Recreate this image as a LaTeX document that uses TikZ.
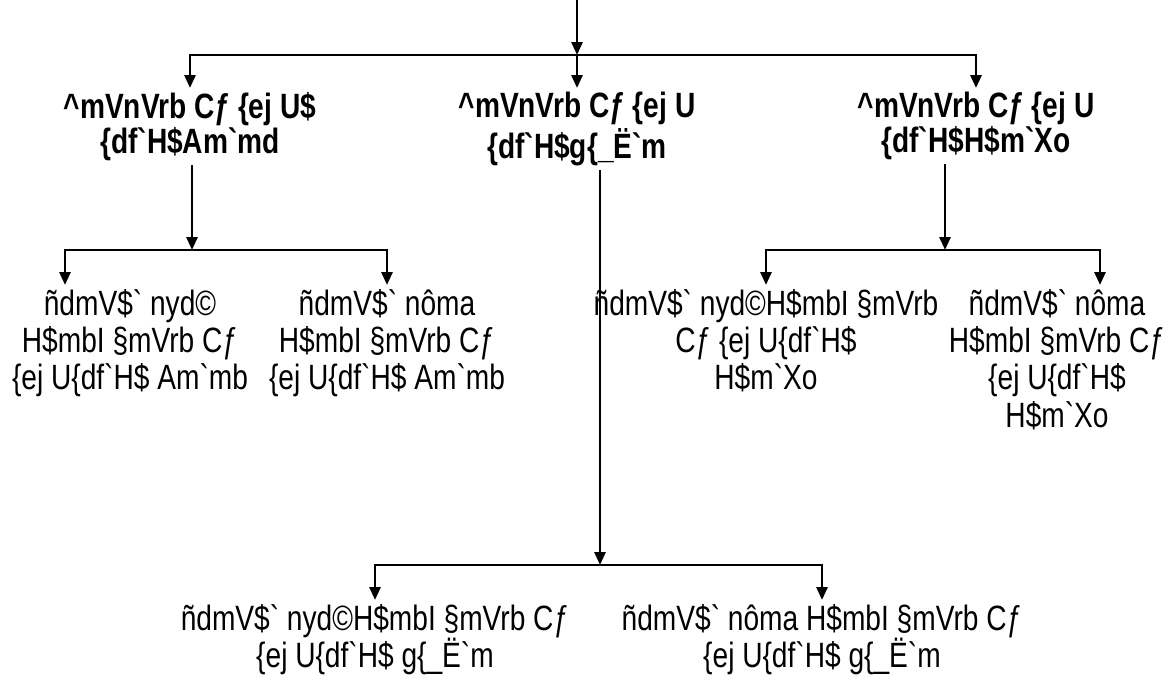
\documentclass[tikz,border=0pt]{standalone}
\usepackage{fontspec}
\setmainfont{Liberation Sans}[FakeStretch=0.8,Ligatures=TeXOff]
\usetikzlibrary{positioning,arrows.meta}
\tikzset{
  head/.style={align=center,anchor=north,inner sep=1pt,font=\bfseries\fontsize{10}{10}\selectfont},
  leaf/.style={align=center,anchor=north,inner sep=1pt,font=\fontsize{10}{10.6}\selectfont},
  link/.style={line width=0.8pt,-{Triangle[length=1.3mm,width=1.1mm]}}
}

\begin{document}
\begin{tikzpicture}[x=1cm,y=-1cm]
  \useasboundingbox (0,0) rectangle (11.72,6.80);
  % junctions
  \coordinate (src) at (5.77,0);
  \coordinate (j0) at (5.77,0.55);
  \coordinate (j1) at (1.92,2.50);
  \coordinate (j2) at (6.00,5.65);
  \coordinate (j3) at (9.45,2.50);
  \coordinate (tipa) at (0.65,2.85);
  \coordinate (tipd) at (11.00,2.85);
  % upper nodes
  \node[head] at(1.90,0.88)(left){\textasciicircum mVnVrb Cƒ \{ej U\$\\\{df`H\$Am`md};
  \node[head] at(5.77,0.88)(mid){\textasciicircum mVnVrb Cƒ \{ej U\\\{df`H\$g\{\_Ë`m};
  \node[head] at(9.76,0.88)(right){\textasciicircum mVnVrb Cƒ \{ej U\\\{df`H\$H\$m`Xo};
  % lower nodes
  \node[leaf] at(1.30,2.85)(ll){ñdmV\$` nyd©\\H\$mbI §mVrb Cƒ\\\{ej U\{df`H\$ Am`mb};
  \node[leaf] at(3.87,2.85)(lr){ñdmV\$` nôma\\H\$mbI §mVrb Cƒ\\\{ej U\{df`H\$ Am`mb};
  \node[leaf] at(7.66,2.85)(rl){ñdmV\$` nyd©H\$mbI §mVrb\\Cƒ \{ej U\{df`H\$\\H\$m`Xo};
  \node[leaf] at(10.57,2.85)(rr){ñdmV\$` nôma\\H\$mbI §mVrb Cƒ\\\{ej U\{df`H\$\\H\$m`Xo};
  \node[leaf] at(3.75,6.00)(bl){ñdmV\$` nyd©H\$mbI §mVrb Cƒ\\\{ej U\{df`H\$ g\{\_Ë`m};
  \node[leaf] at(8.22,6.00)(br){ñdmV\$` nôma H\$mbI §mVrb Cƒ\\\{ej U\{df`H\$ g\{\_Ë`m};
  % arrows
  \draw[link] (src) -- (j0);
  \draw[link] (j0) -| (left.north);
  \draw[link] (j0) -- (mid.north);
  \draw[link] (j0) -| (right.north);
  \draw[link] (left.south -| j1) -- (j1);
  \draw[link] (j1) -| (tipa);
  \draw[link] (j1) -| (lr.north);
  \draw[link] (right.south -| j3) -- (j3);
  \draw[link] (j3) -| (rl.north);
  \draw[link] (j3) -| (tipd);
  \draw[link] (mid.south -| j2) -- (j2);
  \draw[link] (j2) -| (bl.north);
  \draw[link] (j2) -| (br.north);
\end{tikzpicture}
\end{document}
